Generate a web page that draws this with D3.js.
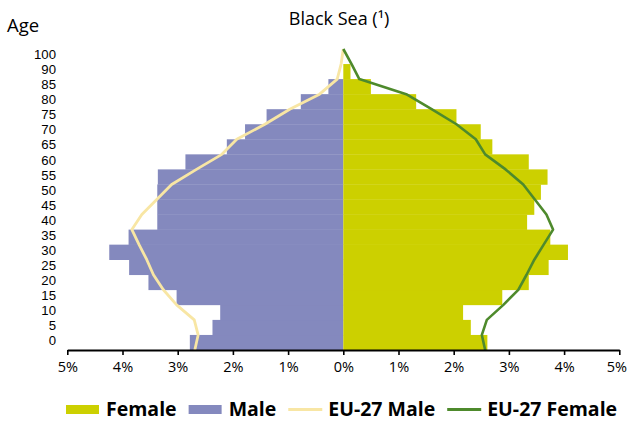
<!DOCTYPE html>
<html>
<head>
<meta charset="utf-8">
<script src="https://cdn.jsdelivr.net/npm/d3@7"></script>
<style>
  html, body { margin: 0; padding: 0; background: #fff; }
  svg { display: block; font-family: "Open Sans", "Noto Sans", sans-serif; }
</style>
</head>
<body>
<svg id="chart" width="628" height="425"></svg>
<script>
// ---- data ----
const ageLabels = ["0","5","10","15","20","25","30","35","40","45","50","55","60","65","70","75","80","85","90","100"];
const maleValues   = [2.78, 2.37, 2.23, 3.02, 3.53, 3.88, 4.24, 3.89, 3.37, 3.37, 3.37, 3.36, 2.86, 2.11, 1.78, 1.39, 0.77, 0.27, 0, 0];
const femaleValues = [2.61, 2.31, 2.17, 2.88, 3.36, 3.72, 4.07, 3.75, 3.33, 3.46, 3.58, 3.70, 3.36, 2.70, 2.49, 2.05, 1.32, 0.50, 0.13, 0];
const euAges   = [0,5,10,15,20,25,30,35,40,45,50,55,60,65,70,75,80,85,90,95,100];
const euMale   = [2.69, 2.63, 2.70, 3.02, 3.26, 3.44, 3.56, 3.70, 3.83, 3.65, 3.38, 3.11, 2.66, 2.20, 1.93, 1.42, 0.97, 0.43, 0.11, 0.04, 0];
const euFemale = [2.57, 2.51, 2.60, 2.90, 3.17, 3.32, 3.46, 3.63, 3.80, 3.68, 3.47, 3.26, 2.94, 2.57, 2.40, 2.05, 1.60, 1.14, 0.29, 0.15, 0];
const xTicks = [-5,-4,-3,-2,-1,0,1,2,3,4,5];
const legendItems = [
  {label: "Female", type: "rect", color: "#CCD000"},
  {label: "Male", type: "rect", color: "#8489BE"},
  {label: "EU-27 Male", type: "line", color: "#F8E6A4"},
  {label: "EU-27 Female", type: "line", color: "#4E8A2C"}
];
const COLORS = {female: "#CCD000", male: "#8489BE", euMale: "#F8E6A4", euFemale: "#4E8A2C"};

// ---- scales ----
const svg = d3.select("#chart");
const x = d3.scaleLinear().domain([-5, 5]).range([67.3, 619.3]);
const yTop = 49, yBottom = 350;
const yBand = d3.scaleBand().domain(ageLabels).range([yBottom, yTop]).paddingInner(0).paddingOuter(0);
const yLine = d3.scaleLinear().domain([0, 100]).range([yBottom, yTop]);

// ---- bars ----
const rows = ageLabels.map((a, i) => ({age: a, m: maleValues[i], f: femaleValues[i]}));
svg.append("g").selectAll("rect").data(rows).join("rect")
  .attr("x", d => x(-d.m)).attr("width", d => x(0) - x(-d.m))
  .attr("y", d => yBand(d.age)).attr("height", yBand.bandwidth() + 0.3)
  .attr("fill", COLORS.male);
svg.append("g").selectAll("rect").data(rows).join("rect")
  .attr("x", x(0)).attr("width", d => x(d.f) - x(0))
  .attr("y", d => yBand(d.age)).attr("height", yBand.bandwidth() + 0.3)
  .attr("fill", COLORS.female);

// ---- lines ----
const maleLine = d3.line().x(d => x(-d)).y((d, i) => yLine(euAges[i]));
const femLine = d3.line().x(d => x(d)).y((d, i) => yLine(euAges[i]));
svg.append("path").datum(euMale).attr("d", maleLine)
  .attr("fill", "none").attr("stroke", COLORS.euMale).attr("stroke-width", 2.8).attr("stroke-linejoin", "round");
svg.append("path").datum(euFemale).attr("d", femLine)
  .attr("fill", "none").attr("stroke", COLORS.euFemale).attr("stroke-width", 2.6).attr("stroke-linejoin", "round");

// ---- x axis ----
const xAxis = d3.axisBottom(x).tickValues(xTicks)
  .tickFormat(d => Math.abs(d) + "%").tickSize(5).tickSizeOuter(0).tickPadding(7);
const gx = svg.append("g").attr("transform", `translate(0,${yBottom})`).call(xAxis);
gx.select(".domain").attr("stroke", "#000").attr("stroke-width", 2);
gx.selectAll(".tick line").attr("stroke", "#000").attr("stroke-width", 1.6);
gx.selectAll(".tick text").attr("font-size", 14.5).attr("font-family", "Open Sans").attr("fill", "#000")
  .attr("dx", d => d === 5 ? -3 : 0);

// ---- y labels ----
const yAxis = d3.axisLeft(yBand).tickSize(0).tickPadding(0);
const gy = svg.append("g").attr("transform", "translate(56,0)").call(yAxis);
gy.select(".domain").remove();
gy.selectAll(".tick text").attr("font-size", 13.2).attr("font-family", "Liberation Sans, Arial, sans-serif")
  .attr("fill", "#000").attr("dy", "0.2em");

// ---- titles ----
svg.append("text").attr("x", 339).attr("y", 25).attr("text-anchor", "middle")
  .attr("font-size", 18).attr("fill", "#000").text("Black Sea (\u00B9)");
svg.append("text").attr("x", 7).attr("y", 32).attr("font-size", 18.5).attr("fill", "#000").text("Age");

// ---- legend ----
const lg = svg.append("g");
let cx = 66;
const ly = 409.5;
legendItems.forEach(it => {
  if (it.type === "rect") {
    lg.append("rect").attr("x", cx).attr("y", ly - 4.5).attr("width", 33).attr("height", 9).attr("fill", it.color);
  } else {
    lg.append("line").attr("x1", cx).attr("x2", cx + 34).attr("y1", ly).attr("y2", ly)
      .attr("stroke", it.color).attr("stroke-width", 3);
  }
  const t = lg.append("text").attr("x", cx + 40).attr("y", ly + 6.8)
    .attr("font-size", 19.5).attr("font-weight", "bold").attr("fill", "#000").text(it.label);
  cx = cx + 40 + t.node().getComputedTextLength() + 12;
});
</script>
</body>
</html>
